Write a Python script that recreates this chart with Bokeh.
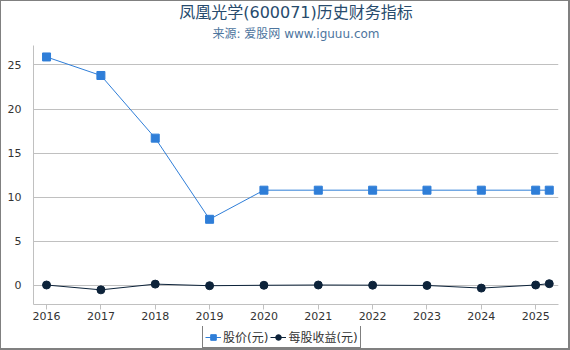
from bokeh.plotting import figure
from bokeh.layouts import column
from bokeh.models import Title, Legend, LegendItem, Range1d, FixedTicker
from bokeh.embed import file_html
from bokeh.resources import INLINE

years = [2016, 2017, 2018, 2019, 2020, 2021, 2022, 2023, 2024, 2025, 2025.25]
price = [25.9, 23.8, 16.7, 7.5, 10.8, 10.8, 10.8, 10.8, 10.8, 10.8, 10.8]
eps = [0.05, -0.5, 0.15, -0.03, 0.02, 0.05, 0.03, 0.0, -0.3, 0.05, 0.2]
tick_years = [2016, 2017, 2018, 2019, 2020, 2021, 2022, 2023, 2024, 2025]
y_ticks = [0, 5, 10, 15, 20, 25]
series_names = ["股价(元)", "每股收益(元)"]

FONT = "DejaVu Sans, Noto Sans CJK SC"
PRICE_C = "#2f7ed8"
EPS_C = "#0d233a"

p = figure(width=567, height=325, output_backend="svg", toolbar_location=None,
           x_range=Range1d(2015.76, 2025.42), y_range=Range1d(-2.16, 27.2),
           min_border_left=32, min_border_right=10, min_border_top=44, min_border_bottom=22)
p.title.visible = False
p.outline_line_color = None

sub = Title(text="来源: 爱股网 www.iguuu.com", align="center", text_font=FONT,
            text_font_size="12px", text_color="#4d759e", text_font_style="normal",
            standoff=9)
main = Title(text="凤凰光学(600071)历史财务指标", align="center", text_font=FONT,
             text_font_size="16px", text_color="#274b6d", text_font_style="normal",
             standoff=-2)
p.add_layout(sub, "above")
p.add_layout(main, "above")

p.xaxis.ticker = FixedTicker(ticks=tick_years)
p.yaxis.ticker = FixedTicker(ticks=y_ticks)
p.xgrid.visible = False
p.ygrid.grid_line_color = "#c0c0c0"
p.ygrid.grid_line_width = 1
for ax in (p.xaxis, p.yaxis):
    ax.axis_line_color = "#c0c0c0"
    ax.major_label_text_font = FONT
    ax.major_label_text_font_size = "11px"
    ax.major_label_text_color = "#333333"
    ax.minor_tick_line_color = None
p.xaxis.major_tick_line_color = "#c0c0c0"
p.xaxis.major_tick_in = 0
p.xaxis.major_tick_out = 5
p.xaxis.major_label_standoff = 2
p.yaxis.major_tick_line_color = None
p.yaxis.major_label_standoff = 6

p.line(years, price, line_color=PRICE_C, line_width=1)
p.scatter(years, price, marker="square", size=8, fill_color=PRICE_C, line_color=PRICE_C)
p.line(years, eps, line_color=EPS_C, line_width=1)
p.scatter(years, eps, marker="circle", size=8, fill_color=EPS_C, line_color=EPS_C)

# legend strip
lg = figure(width=567, height=22, output_backend="svg", toolbar_location=None,
            x_range=Range1d(0, 1), y_range=Range1d(0, 1),
            min_border=0)
lg.axis.visible = False
lg.grid.visible = False
lg.outline_line_color = None
d1 = lg.line([5, 6], [5, 6], line_color=PRICE_C, line_width=1)
s1 = lg.scatter([5], [5], marker="square", size=8, fill_color=PRICE_C, line_color=PRICE_C)
d2 = lg.line([5, 6], [5, 6], line_color=EPS_C, line_width=1)
s2 = lg.scatter([5], [5], marker="circle", size=8, fill_color=EPS_C, line_color=EPS_C)
legend = Legend(items=[LegendItem(label=series_names[0], renderers=[d1, s1]),
                       LegendItem(label=series_names[1], renderers=[d2, s2])],
                orientation="horizontal", location=(169, 0),
                border_line_color="black", border_line_width=1,
                label_text_font=FONT, label_text_font_size="12px", label_text_color="#333333",
                padding=2, spacing=2, margin=0, glyph_width=16, glyph_height=14,
                label_standoff=2, label_height=16)
lg.add_layout(legend)

layout = column(p, lg, spacing=0,
                styles={"border-left": "1px solid #808080", "border-top": "1px solid #808080",
                        "border-right": "2px solid #808080", "border-bottom": "2px solid #808080"})
open("out.html", "w").write(file_html(layout, INLINE))
